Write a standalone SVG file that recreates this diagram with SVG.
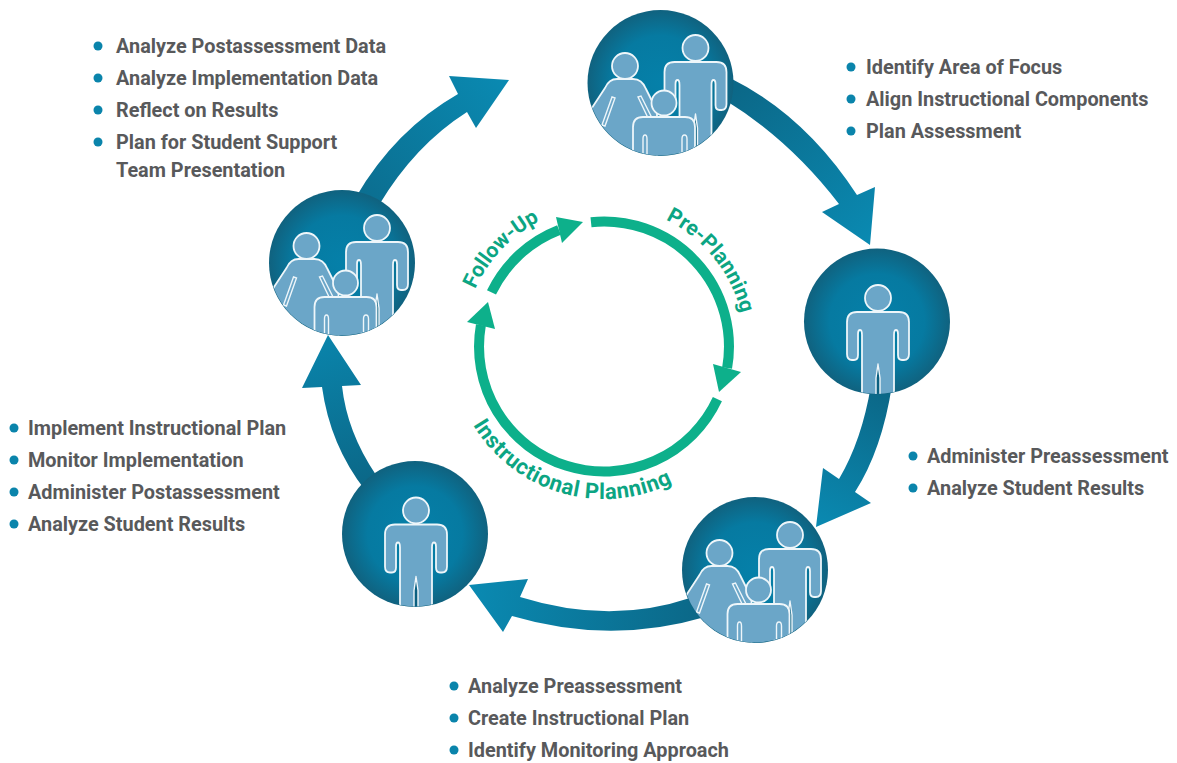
<svg xmlns="http://www.w3.org/2000/svg" xmlns:xlink="http://www.w3.org/1999/xlink" width="1177" height="763" viewBox="0 0 1177 763">
<style>
.p{fill:#6ba6c8;stroke:#eef6fa;stroke-width:1.8;stroke-linejoin:round}
.g{fill:#0a5f80;stroke:#eef6fa;stroke-width:1.4;stroke-linejoin:round}
.s{fill:none;stroke:#eef6fa;stroke-width:1.4}
.bg{fill:url(#disc)}
.t{font-family:Roboto,"Liberation Sans",Arial,sans-serif;font-weight:700;font-size:19.850px;fill:#58595b}
.b{fill:#0a84ab}
.ring{fill:none;stroke:#0db08b;stroke-width:10}
.ah{fill:#0db08b}
.c{font-family:Roboto,"Liberation Sans",Arial,sans-serif;font-weight:700;font-size:21px;fill:#0ca583}
.w{font-size:22px;letter-spacing:.5px}
</style>
<defs>
<radialGradient id="disc"><stop offset="0" stop-color="#0580a9"/><stop offset=".65" stop-color="#067aa1"/><stop offset="1" stop-color="#10627f"/></radialGradient>
<linearGradient id="a1" gradientUnits="userSpaceOnUse" x1="733" y1="90" x2="870" y2="245"><stop offset="0" stop-color="#0b6888"/><stop offset="1" stop-color="#0a8ab2"/></linearGradient>
<linearGradient id="a2" gradientUnits="userSpaceOnUse" x1="880" y1="393" x2="816" y2="527"><stop offset="0" stop-color="#0b6888"/><stop offset="1" stop-color="#0a8ab2"/></linearGradient>
<linearGradient id="a3" gradientUnits="userSpaceOnUse" x1="700" y1="610" x2="469" y2="585"><stop offset="0" stop-color="#0b6888"/><stop offset="1" stop-color="#0a8ab2"/></linearGradient>
<linearGradient id="a4" gradientUnits="userSpaceOnUse" x1="370" y1="480" x2="328" y2="335"><stop offset="0" stop-color="#0b6888"/><stop offset="1" stop-color="#0a84ab"/></linearGradient>
<linearGradient id="a5" gradientUnits="userSpaceOnUse" x1="368" y1="196" x2="509" y2="80"><stop offset="0" stop-color="#0b6f91"/><stop offset="1" stop-color="#0a8ab2"/></linearGradient>
<clipPath id="disc-clip"><circle r="72.5"/></clipPath>
<g id="person">
<path class="p" d="M-21,14H21Q31,14 31,24V56Q31,62 26,62H24Q20,62 20,57V36Q20,32 18,32Q16,32 16,37V110H-16V37Q-16,32 -18,32Q-20,32 -20,36V57Q-20,62 -24,62H-26Q-31,62 -31,56V24Q-31,14 -21,14Z"/>
<path class="g" d="M0,66L-2,80V110H2V80Z"/>
<circle class="p" r="13"/>
</g>
<g id="woman">
<path class="p" d="M-8,13H8Q17,13 21,23L32,45V95H-45V60L-20,22Q-16,13 -8,13Z"/>
<path class="s" d="M-13,31L-23,59L-20,60L-10,32ZM13,31L24,54L27,52L16,30Z"/>
<circle class="p" r="13"/>
</g>
<g id="child">
<path class="p" d="M-21,14H21Q31,14 31,24V80H-31V24Q-31,14 -21,14Z"/>
<path class="s" d="M-21,60V36Q-21,32 -19,32Q-17,32 -17,36V60ZM18,60V36Q18,32 20.500,32Q23,32 23,36V60Z"/>
<circle class="p" r="12.500"/>
</g>
<g id="single"><circle class="bg" r="73"/><g clip-path="url(#disc-clip)"><use xlink:href="#person" href="#person" x="1" y="-23.500"/></g></g>
<g id="family"><circle class="bg" r="73"/><g clip-path="url(#disc-clip)"><use xlink:href="#person" href="#person" x="35" y="-35"/><use xlink:href="#woman" href="#woman" x="-35.500" y="-17"/><use xlink:href="#child" href="#child" x="3.500" y="20"/></g></g>
<path id="tp1" d="M665.800,219.800A141,141 0 0 1 742.900,371"/>
<path id="tp2" d="M475.200,289.200A141,141 0 0 1 604,205.500"/>
<path id="tp3" d="M473,425A152.700,152.700 0 0 0 736,423"/>
</defs>
<g id="connectors">
<path fill="url(#a1)" d="M730,78Q805,115 857,195L875,187L870,245L822,212L839,204Q790,140 725,100Z"/>
<path fill="url(#a2)" d="M892,385Q882,450 855,492L871,503L816,527L823,468L839,479Q862,440 871,385Z"/>
<path fill="url(#a3)" d="M705,617Q610,645 512,616L503,632L469,585L528,579L520,597Q610,625 690,598Z"/>
<path fill="url(#a4)" d="M328,335L361,385L342,386Q347,432 376,475L365,490Q330,445 322,387L302,388Z"/>
<path fill="url(#a5)" d="M509,80L476,128L467,112Q415,145 379,205L356,197Q395,130 458,94L449,76Z"/>
</g>
<g id="cycle-inner">
<path class="ring" d="M591,222.200A125,125 0 0 1 727.100,368"/>
<path class="ah" d="M713,364L741,372L719,392Z"/>
<path class="ring" d="M717.400,399.200A125,125 0 0 1 480.900,325"/>
<path class="ah" d="M467,322L495,329L488,302Z"/>
<path class="ring" d="M491.500,292.400A125,125 0 0 1 559,230"/>
<path class="ah" d="M556,217L562,243L583,222Z"/>
<text class="c"><textPath href="#tp1">Pre-Planning</textPath></text>
<text class="c"><textPath href="#tp2">Follow-Up</textPath></text>
<text class="c w"><textPath href="#tp3">Instructional Planning</textPath></text>
</g>
<use id="node-top" xlink:href="#family" href="#family" x="660.500" y="83"/>
<use id="node-right" xlink:href="#single" href="#single" x="877" y="321.500"/>
<use id="node-bottom" xlink:href="#family" href="#family" x="755" y="570"/>
<use id="node-lower-left" xlink:href="#single" href="#single" x="415" y="534"/>
<use id="node-left" xlink:href="#family" href="#family" x="342" y="263"/>
<g id="list-followup">
<circle class="b" cx="98" cy="46" r="4.500"/><text class="t" x="116" y="53">Analyze Postassessment Data</text>
<circle class="b" cx="98" cy="78" r="4.500"/><text class="t" x="116" y="85">Analyze Implementation Data</text>
<circle class="b" cx="98" cy="110" r="4.500"/><text class="t" x="116" y="117">Reflect on Results</text>
<circle class="b" cx="98" cy="142" r="4.500"/><text class="t" x="116" y="149">Plan for Student Support</text>
<text class="t" x="116" y="177">Team Presentation</text>
</g>
<g id="list-preplanning">
<circle class="b" cx="851" cy="67" r="4.500"/><text class="t" x="866" y="74">Identify Area of Focus</text>
<circle class="b" cx="851" cy="99" r="4.500"/><text class="t" x="866" y="106">Align Instructional Components</text>
<circle class="b" cx="851" cy="131" r="4.500"/><text class="t" x="866" y="138">Plan Assessment</text>
</g>
<g id="list-preassess">
<circle class="b" cx="913" cy="456" r="4.500"/><text class="t" x="927" y="463">Administer Preassessment</text>
<circle class="b" cx="913" cy="488" r="4.500"/><text class="t" x="927" y="495">Analyze Student Results</text>
</g>
<g id="list-planning">
<circle class="b" cx="454" cy="686" r="4.500"/><text class="t" x="468" y="693">Analyze Preassessment</text>
<circle class="b" cx="454" cy="718" r="4.500"/><text class="t" x="468" y="725">Create Instructional Plan</text>
<circle class="b" cx="454" cy="750" r="4.500"/><text class="t" x="468" y="757">Identify Monitoring Approach</text>
</g>
<g id="list-implement">
<circle class="b" cx="14" cy="428" r="4.500"/><text class="t" x="28" y="435">Implement Instructional Plan</text>
<circle class="b" cx="14" cy="460" r="4.500"/><text class="t" x="28" y="467">Monitor Implementation</text>
<circle class="b" cx="14" cy="492" r="4.500"/><text class="t" x="28" y="499">Administer Postassessment</text>
<circle class="b" cx="14" cy="524" r="4.500"/><text class="t" x="28" y="531">Analyze Student Results</text>
</g>
</svg>
